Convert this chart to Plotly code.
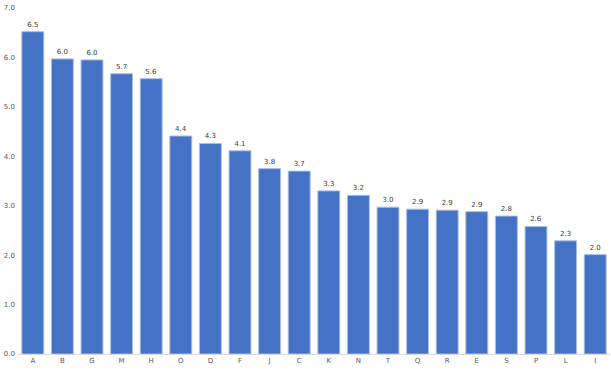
import plotly.graph_objects as go

categories = ["A","B","G","M","H","O","D","F","J","C","K","N","T","Q","R","E","S","P","L","I"]
values = [6.52,5.97,5.95,5.67,5.57,4.41,4.26,4.11,3.75,3.70,3.30,3.21,2.97,2.93,2.91,2.88,2.79,2.58,2.29,2.01]
y_ticks = [0,1,2,3,4,5,6,7]

fig = go.Figure(go.Bar(
    x=categories, y=values,
    marker=dict(color="#4472C4", line=dict(color="#A9BCE4", width=1)),
    text=[f"{v:.1f}" for v in values],
    textposition="outside",
    textfont=dict(size=7, color="#404040", family="DejaVu Sans"),
    cliponaxis=False,
))
fig.update_layout(
    width=611, height=376,
    margin=dict(l=18, r=1, t=8, b=22),
    paper_bgcolor="white", plot_bgcolor="white",
    bargap=0.26, showlegend=False,
    font=dict(family="DejaVu Sans", size=7, color="#595959"),
)
fig.update_yaxes(range=[0,7], tickvals=y_ticks, ticktext=[f"{t:.1f}" for t in y_ticks],
                 showgrid=False, zeroline=False, showline=False, ticks="",
                 tickfont=dict(size=7, color="#595959"), ticklabelstandoff=2)
fig.update_xaxes(showgrid=False, showline=True, linecolor="#D9D9D9", linewidth=1,
                 ticks="", tickfont=dict(size=7, color="#595959"))
fig.write_html("out.html")
